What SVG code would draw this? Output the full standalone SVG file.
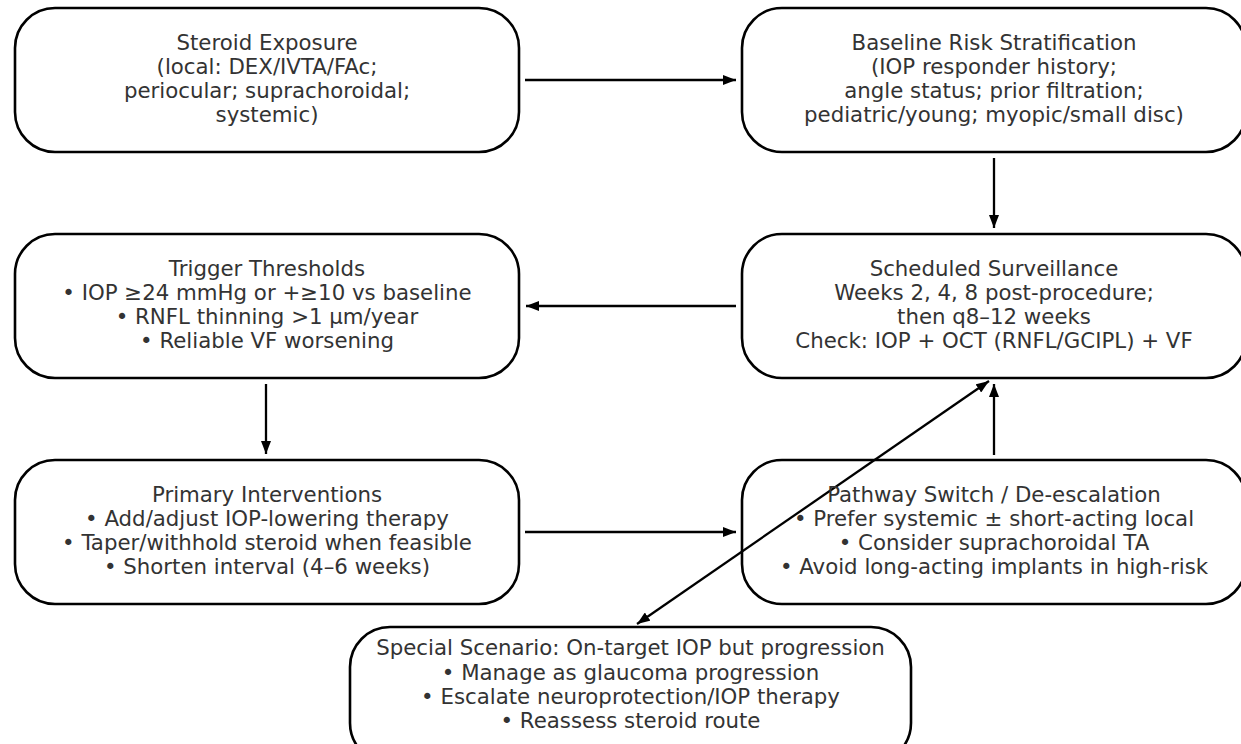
<svg xmlns="http://www.w3.org/2000/svg" width="1241" height="744" viewBox="0 0 1241 744">
<style>
.box{fill:#fff;stroke:#000;stroke-width:2.6}
.t{font-family:"DejaVu Sans",sans-serif;font-size:21.3px;fill:#333;text-anchor:middle}
.c{stroke:#000;stroke-width:2.3;fill:none}
</style>
<defs>
<marker id="ah" viewBox="0 0 13 10" refX="13" refY="5" markerWidth="13" markerHeight="10" markerUnits="userSpaceOnUse" orient="auto-start-reverse">
<path d="M0,0 L13,5 L0,10 z" fill="#000"/>
</marker>
</defs>
<rect width="1241" height="744" fill="#fff"/>
<g id="connectors">
<line class="c" x1="525" y1="80" x2="736" y2="80" marker-end="url(#ah)"/>
<line class="c" x1="994" y1="158" x2="994" y2="228" marker-end="url(#ah)"/>
<line class="c" x1="736" y1="306" x2="526" y2="306" marker-end="url(#ah)"/>
<line class="c" x1="266" y1="384" x2="266" y2="454" marker-end="url(#ah)"/>
<line class="c" x1="525" y1="532" x2="736" y2="532" marker-end="url(#ah)"/>
<line class="c" x1="994" y1="455" x2="994" y2="384" marker-end="url(#ah)"/>
<line class="c" x1="637" y1="624" x2="989" y2="381" marker-start="url(#ah)" marker-end="url(#ah)"/>
</g>
<g id="steroid-exposure">
<rect class="box" x="15" y="8" width="504" height="144" rx="40"/>
<text class="t" x="267" y="50">Steroid Exposure</text>
<text class="t" x="267" y="74">(local: DEX/IVTA/FAc;</text>
<text class="t" x="267" y="98">periocular; suprachoroidal;</text>
<text class="t" x="267" y="122">systemic)</text>
</g>
<g id="baseline-risk">
<rect class="box" x="742" y="8" width="504" height="144" rx="40"/>
<text class="t" x="994" y="50">Baseline Risk Stratification</text>
<text class="t" x="994" y="74">(IOP responder history;</text>
<text class="t" x="994" y="98">angle status; prior filtration;</text>
<text class="t" x="994" y="122">pediatric/young; myopic/small disc)</text>
</g>
<g id="trigger-thresholds">
<rect class="box" x="15" y="234" width="504" height="144" rx="40"/>
<text class="t" x="267" y="276">Trigger Thresholds</text>
<text class="t" x="267" y="300">• IOP ≥24 mmHg or +≥10 vs baseline</text>
<text class="t" x="267" y="324">• RNFL thinning &gt;1 µm/year</text>
<text class="t" x="267" y="348">• Reliable VF worsening</text>
</g>
<g id="scheduled-surveillance">
<rect class="box" x="742" y="234" width="504" height="144" rx="40"/>
<text class="t" x="994" y="276">Scheduled Surveillance</text>
<text class="t" x="994" y="300">Weeks 2, 4, 8 post-procedure;</text>
<text class="t" x="994" y="324">then q8–12 weeks</text>
<text class="t" x="994" y="348">Check: IOP + OCT (RNFL/GCIPL) + VF</text>
</g>
<g id="primary-interventions">
<rect class="box" x="15" y="460" width="504" height="144" rx="40"/>
<text class="t" x="267" y="502">Primary Interventions</text>
<text class="t" x="267" y="526">• Add/adjust IOP-lowering therapy</text>
<text class="t" x="267" y="550">• Taper/withhold steroid when feasible</text>
<text class="t" x="267" y="574">• Shorten interval (4–6 weeks)</text>
</g>
<g id="pathway-switch">
<rect class="box" x="742" y="460" width="504" height="144" rx="40" fill-opacity="0"/>
<text class="t" x="994" y="502">Pathway Switch / De-escalation</text>
<text class="t" x="994" y="526">• Prefer systemic ± short-acting local</text>
<text class="t" x="994" y="550">• Consider suprachoroidal TA</text>
<text class="t" x="994" y="574">• Avoid long-acting implants in high-risk</text>
</g>
<g id="special-scenario">
<rect class="box" x="350" y="627" width="561" height="136" rx="40"/>
<text class="t" x="630.5" y="655">Special Scenario: On-target IOP but progression</text>
<text class="t" x="630.5" y="680">• Manage as glaucoma progression</text>
<text class="t" x="630.5" y="704">• Escalate neuroprotection/IOP therapy</text>
<text class="t" x="630.5" y="728">• Reassess steroid route</text>
</g>
</svg>
